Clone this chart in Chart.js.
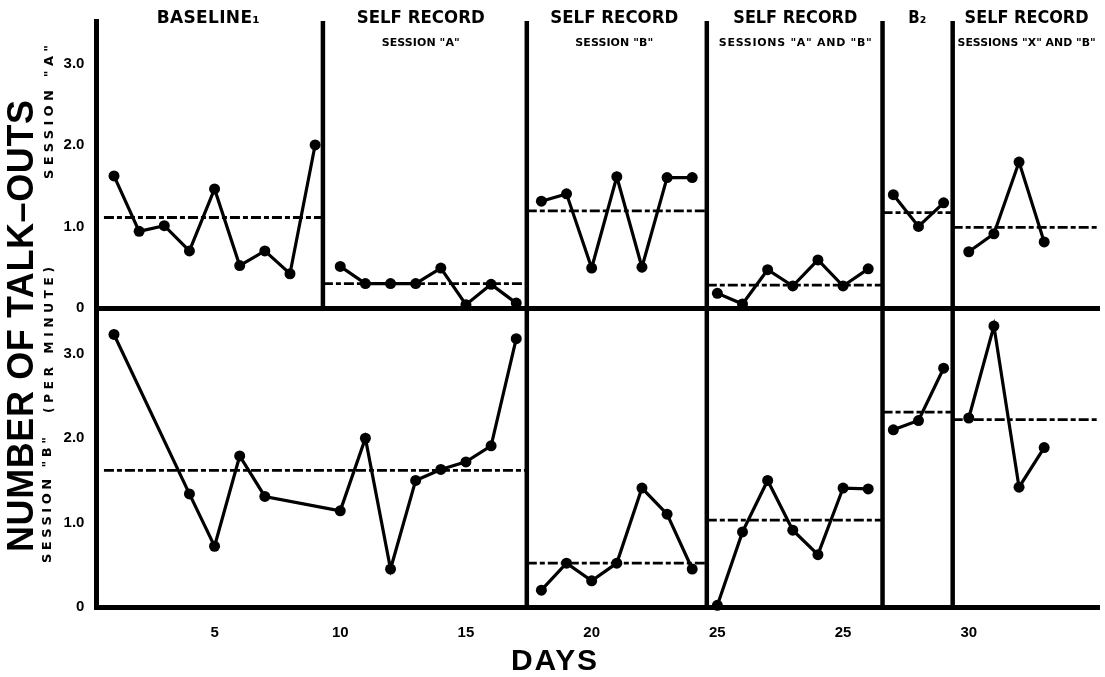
<!DOCTYPE html>
<html>
<head>
<meta charset="utf-8">
<script src="https://cdn.jsdelivr.net/npm/chart.js@4/dist/chart.umd.min.js"></script>
<style>
  html, body { margin:0; padding:0; background:#fff; }
  #wrap { position:relative; width:1105px; height:677px; }
  canvas { position:absolute; left:0; top:0; }
</style>
</head>
<body>
<div id="wrap">
  <canvas id="topChart" width="1105" height="677"></canvas>
  <canvas id="botChart" width="1105" height="677"></canvas>
</div>
<script>
// talk-outs per minute, session A (top) and session B (bottom)
const dayTicks = [5, 10, 15, 20, 25, 30, 35];
const dayTickLabels = ['5', '10', '15', '20', '25', '25', '30'];
const yTicks = [0, 1, 2, 3];

// session A
const aBaseDays = [1, 2, 3, 4, 5, 6, 7, 8, 9];
const aBaseVals = [1.62, 0.94, 1.01, 0.70, 1.46, 0.52, 0.70, 0.42, 2.00];
const aSelfADays = [10, 11, 12, 13, 14, 15, 16, 17];
const aSelfAVals = [0.51, 0.30, 0.30, 0.30, 0.49, 0.04, 0.29, 0.06];
const aSelfBDays = [18, 19, 20, 21, 22, 23, 24];
const aSelfBVals = [1.31, 1.40, 0.49, 1.61, 0.50, 1.60, 1.60];
const aSelfABDays = [25, 26, 27, 28, 29, 30, 31];
const aSelfABVals = [0.18, 0.05, 0.47, 0.27, 0.59, 0.27, 0.48];
const aB2Days = [32, 33, 34];
const aB2Vals = [1.39, 1.00, 1.29];
const aSelfAB2Days = [35, 36, 37, 38];
const aSelfAB2Vals = [0.69, 0.91, 1.79, 0.81];

// session B
const bBaseDays = [1, 4, 5, 6, 7, 10, 11, 12, 13, 14, 15, 16, 17];
const bBaseVals = [3.23, 1.34, 0.72, 1.79, 1.31, 1.14, 2.00, 0.45, 1.50, 1.63, 1.72, 1.91, 3.18];
const bSelfBDays = [18, 19, 20, 21, 22, 23, 24];
const bSelfBVals = [0.20, 0.52, 0.31, 0.52, 1.41, 1.10, 0.45];
const bSelfABDays = [25, 26, 27, 28, 29, 30, 31];
const bSelfABVals = [0.02, 0.89, 1.50, 0.91, 0.62, 1.41, 1.40];
const bB2Days = [32, 33, 34];
const bB2Vals = [2.10, 2.21, 2.83];
const bSelfAB2Days = [35, 36, 37, 38];
const bSelfAB2Vals = [2.24, 3.33, 1.42, 1.89];

// phase changes (days) and phase means
const aPhaseLines = [9.31, 17.42, 24.58, 31.57, 34.36];
const bPhaseLines = [17.42, 24.58, 31.57, 34.36];
const aMeanFrom = [0.6, 9.31, 17.42, 24.58, 31.57, 34.36];
const aMeanTo   = [9.31, 17.42, 24.58, 31.57, 34.36, 40.1];
const aMeanVals = [1.11, 0.30, 1.19, 0.28, 1.17, 0.99];
const bMeanFrom = [0.6, 17.42, 24.58, 31.57, 34.36];
const bMeanTo   = [17.42, 24.58, 31.57, 34.36, 40.1];
const bMeanVals = [1.62, 0.52, 1.03, 2.31, 2.22];

const phaseTitles = ['BASELINE\u2081', 'SELF RECORD', 'SELF RECORD', 'SELF RECORD', 'B\u2082', 'SELF RECORD'];
const phaseSubtitles = ['', 'SESSION "A"', 'SESSION "B"', 'SESSIONS "A" AND "B"', '', 'SESSIONS "X" AND "B"'];
const phaseLabelDays = [4.75, 13.2, 20.9, 28.1, 32.95, 37.3];

const X_MIN = 0.3, X_MAX = 40.2, Y_MAX = 3.52;

function series(days, vals) {
  return {
    data: days.map((d, i) => ({ x: d, y: vals[i] })),
    borderColor: '#000', borderWidth: 3.2, tension: 0,
    pointRadius: 5.5, pointBackgroundColor: '#000', pointBorderWidth: 0,
    clip: false
  };
}
function meanLine(from, to, v) {
  return {
    data: [{ x: from, y: v }, { x: to, y: v }],
    borderColor: '#000', borderWidth: 2.8, borderDash: [10, 3, 5, 3],
    pointRadius: 0, clip: false
  };
}
function phaseLine(d) {
  return {
    data: [{ x: d, y: 0 }, { x: d, y: Y_MAX }],
    borderColor: '#000', borderWidth: 4.5, pointRadius: 0, clip: false
  };
}

// draw text stretched (letter spacing) or squeezed to a given width
function fitText(ctx, text, cx, cy, width, font, rotate) {
  ctx.save();
  ctx.translate(cx, cy);
  if (rotate) ctx.rotate(-Math.PI / 2);
  ctx.font = font;
  ctx.fillStyle = '#000';
  ctx.textBaseline = 'middle';
  ctx.textAlign = 'left';
  ctx.letterSpacing = '0px';
  const w = ctx.measureText(text).width;
  const n = [...text].length;
  if (w < width && n > 1) {
    ctx.letterSpacing = ((width - w) / (n - 1)) + 'px';
  } else if (w > width) {
    ctx.scale(width / w, 1);
    ctx.fillText(text, -w / 2, 0);
    ctx.restore();
    return;
  }
  ctx.fillText(text, -width / 2, 0);
  ctx.restore();
}

const yAxis = {
  type: 'linear', min: 0, max: Y_MAX,
  grid: { display: false, drawTicks: false },
  border: { display: true, width: 5, color: '#000' },
  ticks: {
    stepSize: 1, includeBounds: false, padding: 12, color: '#000',
    font: { family: 'Liberation Sans', weight: 'bold', size: 15 },
    callback: v => (v === 0 ? '0' : v.toFixed(1))
  },
  afterBuildTicks: s => { s.ticks = yTicks.map(v => ({ value: v })); },
  afterFit: s => { s.width = 96.4; }
};

const phaseLabels = {
  id: 'phaseLabels',
  afterDraw(chart) {
    const ctx = chart.ctx, x = chart.scales.x;
    const titleW = [103, 128, 128, 124, 18, 124];
    const subW = [0, 78, 78, 153, 0, 138];
    phaseTitles.forEach((t, i) => {
      const cx = x.getPixelForValue(phaseLabelDays[i]);
      fitText(ctx, t, cx, 19, titleW[i], 'bold 17px "DejaVu Sans"');
      if (phaseSubtitles[i]) fitText(ctx, phaseSubtitles[i], cx, 43, subW[i], 'bold 11px "DejaVu Sans"');
    });
  }
};

const sideLabels = {
  id: 'sideLabels',
  afterDraw(chart) {
    const ctx = chart.ctx;
    fitText(ctx, 'NUMBER OF TALK\u2013OUTS', 23, 326, 452, 'bold 36px "Liberation Sans"', true);
    fitText(ctx, 'SESSION "A"', 50, 112, 134, 'bold 13px "DejaVu Sans"', true);
    fitText(ctx, '(PER MINUTE)', 50, 340, 146, 'bold 12px "DejaVu Sans"', true);
    fitText(ctx, 'SESSION "B"', 48, 500, 126, 'bold 13px "DejaVu Sans"', true);
    fitText(ctx, 'DAYS', 554, 662, 86, 'bold 30px "Liberation Sans"', false);
  }
};

const common = {
  responsive: false, animation: false, devicePixelRatio: 1,
  plugins: { legend: { display: false }, tooltip: { enabled: false } }
};

new Chart(document.getElementById('topChart'), {
  type: 'line',
  data: {
    datasets: [
      series(aBaseDays, aBaseVals), series(aSelfADays, aSelfAVals),
      series(aSelfBDays, aSelfBVals), series(aSelfABDays, aSelfABVals),
      series(aB2Days, aB2Vals), series(aSelfAB2Days, aSelfAB2Vals),
      ...aMeanVals.map((v, i) => meanLine(aMeanFrom[i], aMeanTo[i], v)),
      ...aPhaseLines.map(phaseLine)
    ]
  },
  options: {
    ...common,
    layout: { padding: { left: 0, top: 12, right: 5, bottom: 369 } },
    scales: {
      x: {
        type: 'linear', min: X_MIN, max: X_MAX,
        grid: { display: false, drawTicks: false },
        border: { display: true, width: 5, color: '#000' },
        ticks: { display: false },
        afterFit: s => { s.height = 0; }
      },
      y: yAxis
    }
  },
  plugins: [phaseLabels]
});

new Chart(document.getElementById('botChart'), {
  type: 'line',
  data: {
    datasets: [
      series(bBaseDays, bBaseVals), series(bSelfBDays, bSelfBVals),
      series(bSelfABDays, bSelfABVals), series(bB2Days, bB2Vals),
      series(bSelfAB2Days, bSelfAB2Vals),
      ...bMeanVals.map((v, i) => meanLine(bMeanFrom[i], bMeanTo[i], v)),
      ...bPhaseLines.map(phaseLine)
    ]
  },
  options: {
    ...common,
    layout: { padding: { left: 0, top: 310, right: 5, bottom: 0 } },
    scales: {
      x: {
        type: 'linear', min: X_MIN, max: X_MAX,
        grid: { display: false, drawTicks: false },
        border: { display: true, width: 5, color: '#000' },
        ticks: {
          padding: 17, color: '#000', maxRotation: 0,
          font: { family: 'Liberation Sans', weight: 'bold', size: 15 },
          callback: v => dayTickLabels[dayTicks.indexOf(v)]
        },
        afterBuildTicks: s => { s.ticks = dayTicks.map(v => ({ value: v })); },
        afterFit: s => { s.height = 70; }
      },
      y: { ...yAxis, ticks: { ...yAxis.ticks } }
    }
  },
  plugins: [sideLabels]
});
</script>
</body>
</html>
